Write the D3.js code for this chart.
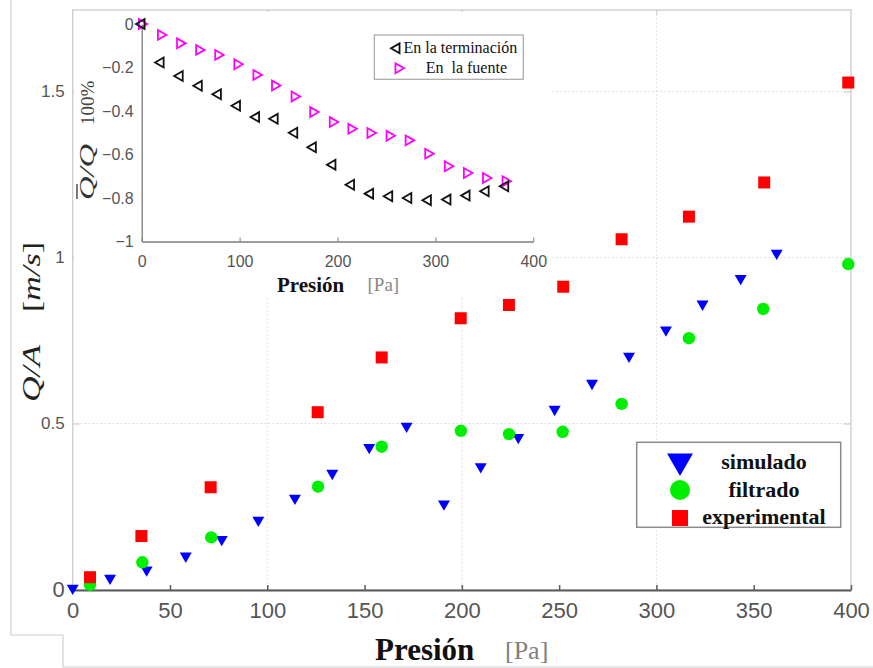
<!DOCTYPE html>
<html>
<head>
<meta charset="utf-8">
<script src="https://cdn.jsdelivr.net/npm/d3@7/dist/d3.min.js"></script>
<style>
  body { margin: 0; background: #fff; }
  svg { display: block; }
  text { white-space: pre; }
</style>
</head>
<body>
<svg id="chart" width="873" height="668"></svg>
<script>
// ---- Main chart data: Q/A [m/s] against pressure [Pa] ----
const simPresion = [0, 19.2, 38.0, 58.1, 76.6, 95.4, 114.2, 133.4, 152.4, 171.6, 190.8, 209.7, 229.0, 247.7, 266.9, 285.9, 304.9, 323.7, 343.3, 361.8];
const simQA      = [0.004, 0.034, 0.059, 0.101, 0.151, 0.209, 0.275, 0.350, 0.428, 0.492, 0.258, 0.370, 0.458, 0.543, 0.621, 0.703, 0.782, 0.860, 0.937, 1.013];

const filPresion = [8.9, 35.8, 71.2, 126.1, 158.8, 199.5, 224.2, 251.8, 282.1, 316.7, 354.9, 398.6];
const filQA      = [0.014, 0.082, 0.157, 0.310, 0.430, 0.478, 0.468, 0.475, 0.559, 0.757, 0.845, 0.980];

const expPresion = [8.9, 35.3, 70.9, 125.9, 158.8, 199.4, 224.2, 252.1, 282.1, 316.7, 355.4, 398.6];
const expQA      = [0.037, 0.161, 0.308, 0.534, 0.699, 0.817, 0.857, 0.912, 1.055, 1.123, 1.226, 1.527];

const seriesNames = ["simulado", "filtrado", "experimental"];
const xTicks = [0, 50, 100, 150, 200, 250, 300, 350, 400];
const yTicks = [0, 0.5, 1, 1.5];
const xGrid = [100, 200, 300];

// ---- Inset data: relative flow difference (%) ----
const insetPresion = [0, 19.5, 39, 58.5, 78, 97.5, 117, 136, 156, 175, 195, 214, 233.5, 253, 272.5, 292.5, 312.5, 332, 351.5, 371.5];
const terminacion  = [0, -0.177, -0.239, -0.284, -0.323, -0.376, -0.428, -0.436, -0.500, -0.567, -0.647, -0.739, -0.780, -0.792, -0.800, -0.810, -0.807, -0.789, -0.769, -0.746];
const fuente       = [0, -0.050, -0.089, -0.119, -0.142, -0.185, -0.234, -0.283, -0.333, -0.405, -0.451, -0.482, -0.501, -0.514, -0.535, -0.596, -0.654, -0.685, -0.708, -0.723];
const insetNames = ["En la terminación", "En  la fuente"];
const insetXTicks = [0, 100, 200, 300, 400];
const insetYTicks = [0, -0.2, -0.4, -0.6, -0.8, -1];

const svg = d3.select("#chart");
const serif = "'Liberation Serif', 'Times New Roman', serif";
const sans = "'Liberation Sans', Arial, sans-serif";

// Outer frame lines around the figure
svg.append("path")
  .attr("d", "M11,0V635H63V667H873")
  .attr("fill", "none").attr("stroke", "#cfcfcf").attr("stroke-width", 1.2);

// ---- Main axes ----
const x = d3.scaleLinear().domain([0, 400]).range([72.7, 851]);
const y = d3.scaleLinear().domain([0, 1.5]).range([589.5, 91.5]);
const plotTop = 10, plotBottom = 590;

// dotted grid
const grid = svg.append("g").attr("stroke", "#d6d6d6").attr("stroke-width", 1).attr("stroke-dasharray", "1.5,2.5");
grid.selectAll("line.h").data(yTicks.filter(d => d > 0)).join("line")
  .attr("x1", x(0)).attr("x2", x(400)).attr("y1", d => y(d)).attr("y2", d => y(d));
grid.selectAll("line.v").data(xGrid).join("line")
  .attr("x1", d => x(d)).attr("x2", d => x(d)).attr("y1", plotTop).attr("y2", plotBottom);

// box (light gray)
svg.append("rect")
  .attr("x", x(0)).attr("y", plotTop)
  .attr("width", x(400) - x(0)).attr("height", plotBottom - plotTop)
  .attr("fill", "none").attr("stroke", "#cccccc").attr("stroke-width", 1.3);

// top ticks
svg.append("g").attr("transform", `translate(0,${plotTop})`)
  .call(d3.axisTop(x).tickValues(xGrid).tickSizeInner(-5).tickSizeOuter(0).tickFormat(""))
  .call(g => g.select(".domain").remove())
  .call(g => g.selectAll(".tick line").attr("stroke", "#c8c8c8"));

// right ticks
svg.append("g").attr("transform", `translate(${x(400)},0)`)
  .call(d3.axisRight(y).tickValues([0.5, 1, 1.5]).tickSizeInner(-7).tickSizeOuter(0).tickFormat(""))
  .call(g => g.select(".domain").remove())
  .call(g => g.selectAll(".tick line").attr("stroke", "#c8c8c8"));

// left axis
svg.append("g").attr("transform", `translate(${x(0)},0)`)
  .call(d3.axisLeft(y).tickValues(yTicks).tickSizeInner(-7).tickSizeOuter(0).tickPadding(8)
        .tickFormat(d => d === 0 ? "0" : d3.format("")(d)))
  .call(g => g.select(".domain").remove())
  .call(g => g.selectAll(".tick line").attr("stroke", "#c8c8c8"))
  .call(g => g.selectAll(".tick text")
    .attr("font-family", sans).attr("fill", "#555")
    .attr("font-size", d => d === 0 ? 22 : 17));

// bottom axis (dark)
svg.append("g").attr("transform", `translate(0,${plotBottom})`)
  .call(d3.axisBottom(x).tickValues(xTicks).tickSizeInner(-5).tickSizeOuter(0).tickPadding(12.5))
  .call(g => g.select(".domain").attr("stroke", "#5a5a5a").attr("stroke-width", 2))
  .call(g => g.selectAll(".tick line").attr("stroke", "#5a5a5a").attr("stroke-width", 1.5))
  .call(g => g.selectAll(".tick text")
    .attr("font-family", sans).attr("font-size", 22).attr("fill", "#555"));

// x label
svg.append("text").attr("x", 375).attr("y", 660)
  .attr("font-family", serif).attr("font-weight", "bold").attr("font-size", 31).attr("fill", "#111")
  .text("Presión");
svg.append("text").attr("x", 505).attr("y", 659)
  .attr("font-family", serif).attr("font-size", 26).attr("fill", "#808080")
  .text("[Pa]");

// y label
const yl = svg.append("g").attr("transform", "translate(40,402) rotate(-90)")
  .attr("font-family", serif).attr("font-size", 26).attr("fill", "#222");
yl.append("text").attr("x", 0).attr("y", 0).attr("font-style", "italic")
  .attr("textLength", 57).attr("lengthAdjust", "spacingAndGlyphs").text("Q/A");
const ylu = yl.append("text").attr("x", 90).attr("y", 0)
  .attr("textLength", 70).attr("lengthAdjust", "spacingAndGlyphs");
ylu.append("tspan").text("[");
ylu.append("tspan").attr("font-style", "italic").text("m/s");
ylu.append("tspan").text("]");

// ---- Inset background (covers main grid) ----
svg.append("rect").attr("x", 74).attr("y", 12).attr("width", 478).attr("height", 285).attr("fill", "#fff");

// ---- Main data markers ----
const triDown = d3.symbol(d3.symbolTriangle, 62);
svg.append("g").selectAll("path").data(d3.zip(simPresion, simQA)).join("path")
  .attr("d", triDown)
  .attr("transform", d => `translate(${x(d[0])},${y(d[1])}) rotate(180)`)
  .attr("fill", "#0000ff");

svg.append("g").selectAll("circle").data(d3.zip(filPresion, filQA)).join("circle")
  .attr("cx", d => x(d[0])).attr("cy", d => y(d[1])).attr("r", 6.2)
  .attr("fill", "#00ee00");

svg.append("g").selectAll("rect").data(d3.zip(expPresion, expQA)).join("rect")
  .attr("x", d => x(d[0]) - 6).attr("y", d => y(d[1]) - 6)
  .attr("width", 12).attr("height", 12)
  .attr("fill", "#ff0000");

// ---- Main legend ----
const lg = svg.append("g");
lg.append("rect").attr("x", 636.7).attr("y", 442.3).attr("width", 204).attr("height", 85)
  .attr("fill", "#fff").attr("stroke", "#8a8a8a").attr("stroke-width", 1.5);
lg.append("path").attr("d", d3.symbol(d3.symbolTriangle, 290))
  .attr("transform", "translate(680,461) rotate(180)").attr("fill", "#0000ff");
lg.append("circle").attr("cx", 680).attr("cy", 490).attr("r", 10).attr("fill", "#00ee00");
lg.append("rect").attr("x", 672).attr("y", 510).attr("width", 16).attr("height", 16).attr("fill", "#ff0000");
lg.selectAll("text").data(seriesNames).join("text")
  .attr("x", 764).attr("y", (d, i) => [469, 497, 524][i])
  .attr("text-anchor", "middle")
  .attr("font-family", serif).attr("font-weight", "bold").attr("font-size", 22).attr("fill", "#111")
  .text(d => d);

// ---- Inset axes ----
const ix = d3.scaleLinear().domain([0, 400]).range([141.7, 533.3]);
const iy = d3.scaleLinear().domain([-1, 0]).range([241.5, 24]);
const axisGray = "#7d7d7d";

svg.append("g").attr("transform", `translate(0,${iy(-1)})`)
  .call(d3.axisBottom(ix).tickValues(insetXTicks).tickSizeInner(-4).tickSizeOuter(0).tickPadding(14.5))
  .call(g => g.select(".domain").attr("stroke", axisGray).attr("stroke-width", 1.3))
  .call(g => g.selectAll(".tick line").attr("stroke", axisGray))
  .call(g => g.selectAll(".tick text").attr("font-family", sans).attr("font-size", 16).attr("fill", "#555"));

svg.append("g").attr("transform", `translate(${ix(0)},0)`)
  .call(d3.axisLeft(iy).tickValues(insetYTicks).tickSizeInner(0).tickSizeOuter(0).tickPadding(8)
        .tickFormat(d => d === 0 ? "0" : d3.format("")(d)))
  .call(g => g.select(".domain").attr("stroke", axisGray).attr("stroke-width", 1.3))
  .call(g => g.selectAll(".tick text").attr("font-family", sans).attr("font-size", 16).attr("fill", "#555"));

// inset x label
svg.append("text").attr("x", 277).attr("y", 291.5)
  .attr("font-family", serif).attr("font-weight", "bold").attr("font-size", 21).attr("fill", "#111")
  .text("Presión");
svg.append("text").attr("x", 367.5).attr("y", 291)
  .attr("font-family", serif).attr("font-size", 19).attr("fill", "#888")
  .text("[Pa]");

// inset y label: Q̄/Q 100%
const iyl = svg.append("g").attr("transform", "translate(94,200) rotate(-90)").attr("font-family", serif);
iyl.append("text").attr("x", 0).attr("y", 0).attr("font-style", "italic").attr("font-size", 22)
  .attr("fill", "#333").attr("textLength", 56).attr("lengthAdjust", "spacingAndGlyphs").text("Q/Q");
iyl.append("line").attr("x1", 1).attr("x2", 16).attr("y1", -17).attr("y2", -17)
  .attr("stroke", "#333").attr("stroke-width", 1.3);
iyl.append("text").attr("x", 75).attr("y", 0).attr("font-size", 19).attr("fill", "#444").text("100%");

// inset markers
const triInset = d3.symbol(d3.symbolTriangle, 42);
svg.append("g").selectAll("path").data(d3.zip(insetPresion, fuente)).join("path")
  .attr("d", triInset)
  .attr("transform", d => `translate(${ix(d[0])},${iy(d[1])}) rotate(90)`)
  .attr("fill", "none").attr("stroke", "#ff00ff").attr("stroke-width", 1.8);
svg.append("g").selectAll("path").data(d3.zip(insetPresion, terminacion)).join("path")
  .attr("d", triInset)
  .attr("transform", d => `translate(${ix(d[0])},${iy(d[1])}) rotate(-90)`)
  .attr("fill", "none").attr("stroke", "#111").attr("stroke-width", 1.8);

// inset legend
const il = svg.append("g");
il.append("rect").attr("x", 374.3).attr("y", 35).attr("width", 149).attr("height", 44.3)
  .attr("fill", "#fff").attr("stroke", "#a8a8a8").attr("stroke-width", 1.2);
il.append("path").attr("d", triInset).attr("transform", "translate(396.7,48.3) rotate(-90)")
  .attr("fill", "none").attr("stroke", "#111").attr("stroke-width", 1.8);
il.append("path").attr("d", triInset).attr("transform", "translate(398.3,68.3) rotate(90)")
  .attr("fill", "none").attr("stroke", "#ff00ff").attr("stroke-width", 1.8);
il.selectAll("text").data(insetNames).join("text")
  .attr("x", (d, i) => [403.5, 425.7][i]).attr("y", (d, i) => [53, 72.5][i])
  .attr("font-family", serif).attr("font-size", 16).attr("fill", "#111")
  .text(d => d);
</script>
</body>
</html>
